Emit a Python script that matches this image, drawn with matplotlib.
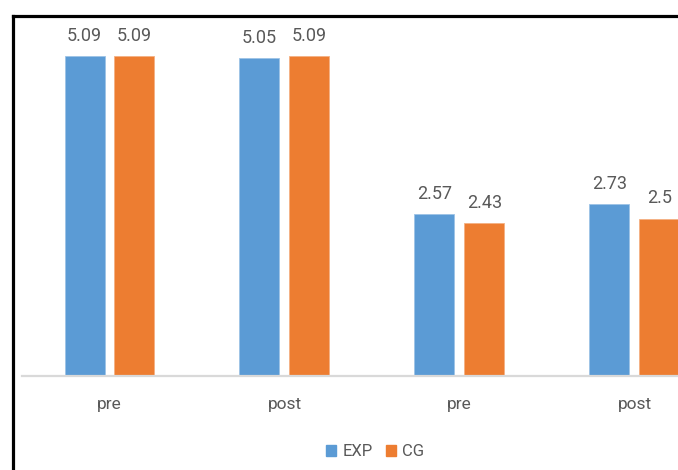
import numpy as np
import matplotlib
matplotlib.use("Agg")
import matplotlib.pyplot as plt
from matplotlib.lines import Line2D
from matplotlib.patches import Patch

# data
categories = ["pre", "post", "pre", "post"]
exp_values = [5.09, 5.05, 2.57, 2.73]
cg_values = [5.09, 5.09, 2.43, 2.5]
exp_labels = ["5.09", "5.05", "2.57", "2.73"]
cg_labels = ["5.09", "5.09", "2.43", "2.5"]

blue = "#5B9BD5"
orange = "#ED7D31"
text_grey = "#595959"

plt.rcParams['font.family'] = ['Roboto', 'DejaVu Sans']

W, H = 678, 470
fig = plt.figure(figsize=(W / 100, H / 100), dpi=100)

# plot area runs past the right edge (the reference is cropped)
px_per_cat = 175
ax_left = 22
ax_bottom = 376
y_top = 5.5
px_per_unit = 62.9
ax_h = y_top * px_per_unit
ax = fig.add_axes([ax_left / W, (H - ax_bottom) / H,
                   4 * px_per_cat / W, ax_h / H])

x = np.arange(len(categories))
bw = 40 / px_per_cat
gap = 10 / px_per_cat
off = (bw + gap) / 2

b1 = ax.bar(x - off, exp_values, bw, color=blue, edgecolor="#9DC3E6", linewidth=0.6)
b2 = ax.bar(x + off, cg_values, bw, color=orange, edgecolor="#F4B183", linewidth=0.6)

for bars, labs in ((b1, exp_labels), (b2, cg_labels)):
    for r, lab in zip(bars, labs):
        ax.annotate(lab, (r.get_x() + r.get_width() / 2, r.get_height()),
                    xytext=(0, 11), textcoords="offset points",
                    ha="center", va="baseline", fontsize=13, color=text_grey)

ax.set_xlim(-0.5, 3.5)
ax.set_ylim(0, y_top)
ax.set_xticks(x)
ax.set_xticklabels(categories, fontsize=12.5, color=text_grey)
ax.tick_params(axis="x", length=0, pad=15)
ax.set_yticks([])
for s in ("top", "left", "right"):
    ax.spines[s].set_visible(False)
ax.spines["bottom"].set_color("#D9D9D9")
ax.spines["bottom"].set_linewidth(1.6)

handles = [Patch(color=blue, label="EXP"), Patch(color=orange, label="CG")]
fig.legend(handles=handles, loc="center", bbox_to_anchor=(375 / W, (H - 452) / H),
           ncol=2, frameon=False, fontsize=12, labelcolor=text_grey,
           handlelength=0.6, handleheight=0.6, handletextpad=0.35, columnspacing=0.8)

# black frame on the left and top edges
fig.add_artist(Line2D([12.5 / W, 12.5 / W], [0, (H - 15.5) / H], color="black",
                      linewidth=2.3, transform=fig.transFigure, solid_capstyle="projecting"))
fig.add_artist(Line2D([12.5 / W, 1], [(H - 15.5) / H, (H - 15.5) / H], color="black",
                      linewidth=2.3, transform=fig.transFigure, solid_capstyle="projecting"))

fig.savefig("out.png", dpi=100)
